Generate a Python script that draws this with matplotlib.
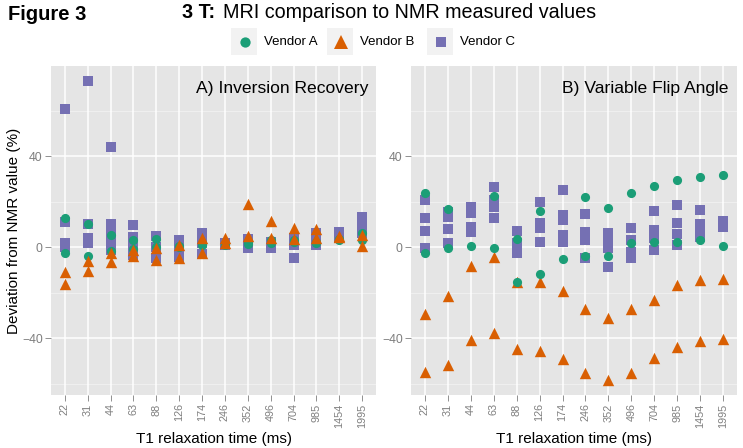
import matplotlib
matplotlib.use('Agg')
import matplotlib.pyplot as plt
from matplotlib.patches import Rectangle
from matplotlib.lines import Line2D

categories = ['22', '31', '44', '63', '88', '126', '174', '246', '352', '496', '704', '985', '1454', '1995']

# Panel A: Inversion Recovery
ir_vendor_a = [[13.0, -2.5], [10.0, -3.8], [5.3, -1.6], [3.1, -1.0], [3.5, 0.1], [0.4, 0.1], [1.9, 1.0],
               [1.3, 0.8], [2.3, 1.5], [1.9, 3.0], [2.3, 3.0], [1.6, 2.3], [3.1, 3.5], [6.3, 3.1]]
ir_vendor_b = [[-10.8, -16.0], [-6.0, -10.4], [-2.8, -6.4], [-1.3, -4.0], [-0.3, -5.5], [0.9, -5.0], [4.1, -2.5],
               [4.1, 1.6], [18.9, 4.8], [11.6, 4.1], [8.6, 3.4], [7.8, 4.1], [4.5, 5.0], [5.3, 0.4]]
ir_vendor_c = [[60.7, 11.1, 1.9, 0.1], [73.0, 10.0, 4.2, 1.9], [44.1, 10.1, 6.0, 1.6, -1.3], [9.7, 4.5, 0.1, -3.5],
               [4.8, 0.0, -5.0], [3.1, -1.3, -4.5], [6.0, 1.6, -3.1], [2.0, 1.0], [3.4, -0.6], [2.3, -0.6],
               [3.8, 0.9, -5.0], [6.3, 3.5, 0.9], [6.7, 3.8], [13.3, 10.4, 6.0]]

# Panel B: Variable Flip Angle
vfa_vendor_a = [[23.6, -2.8], [16.7, -0.6], [0.4], [22.4, -0.6], [3.5, -15.2], [16.0, -11.6], [-5.4],
                [22.1, -3.8], [17.0, -3.8], [23.6, 1.8], [26.8, 2.3], [29.5, 2.3], [30.9, 3.1], [31.6, 0.4]]
vfa_vendor_b = [[-29.5, -54.8], [-21.4, -51.6], [-8.4, -40.9], [-4.5, -37.7], [-15.2, -45.0], [-15.5, -45.7],
                [-19.3, -49.2], [-27.4, -55.5], [-31.1, -58.5], [-27.3, -55.2], [-23.3, -48.9], [-16.7, -44.1],
                [-14.5, -41.3], [-13.8, -40.6]]
vfa_vendor_c = [[20.7, 12.6, 7.0, -0.6], [15.5, 13.3, 7.8, 1.9], [17.7, 14.8, 8.9, 6.7], [26.2, 20.7, 17.7, 12.6],
                [7.2, 1.6, -2.8], [19.9, 10.4, 8.2, 2.3], [25.1, 14.1, 11.9, 5.3, 2.3], [14.5, 6.7, 3.1, -5.0],
                [6.3, 2.3, -0.6, -8.9], [8.2, 3.1, -2.1, -5.0], [16.0, 7.5, 3.8, -1.3], [18.3, 10.4, 5.7, 0.9],
                [16.3, 10.0, 7.5, 4.5], [11.6, 8.9]]

vendors = ['Vendor A', 'Vendor B', 'Vendor C']
colors = {'Vendor A': '#1b9e77', 'Vendor B': '#d95f02', 'Vendor C': '#7570b3'}
markers = {'Vendor A': 'o', 'Vendor B': '^', 'Vendor C': 's'}
msizes = {'Vendor A': 6.6, 'Vendor B': 8.2, 'Vendor C': 6.7}
legend_msizes = {'Vendor A': 7.4, 'Vendor B': 10.5, 'Vendor C': 7.8}

plt.rcParams['font.family'] = ['Liberation Sans', 'DejaVu Sans']

W, H = 743, 448
fig = plt.figure(figsize=(W / 100, H / 100), dpi=100)


def fx(x):
    return x / W


def fy(y):
    return 1 - y / H


def flatten(groups):
    xs, ys = [], []
    for i, g in enumerate(groups):
        for v in g:
            xs.append(i)
            ys.append(v)
    return xs, ys


def make_panel(left, right, title, data, order):
    ax = fig.add_axes([fx(left), fy(395), fx(right) - fx(left), fy(66) - fy(395)])
    ax.set_facecolor('#e5e5e5')
    for s in ax.spines.values():
        s.set_visible(False)
    ax.set_xlim(-0.6, len(categories) - 0.4)
    ax.set_ylim(-65, 79.6)
    for yv in [-60, -20, 20, 60]:
        ax.axhline(yv, color='#f2f2f2', lw=0.6, zorder=0)
    for yv in [-40, 0, 40]:
        ax.axhline(yv, color='white', lw=1.1, zorder=0.5)
    for i in range(len(categories)):
        ax.axvline(i, color='white', lw=1.1, zorder=0.5)
    for z, v in enumerate(order):
        xs, ys = flatten(data[v])
        ax.scatter(xs, ys, marker=markers[v], s=msizes[v] ** 2, color=colors[v],
                   linewidths=0, zorder=2 + z)
    ax.set_xticks(range(len(categories)))
    ax.set_xticklabels(categories, rotation=90, fontsize=7.8, color='#7f7f7f')
    ax.set_yticks([-40, 0, 40])
    ax.set_yticklabels(['\u221240', '0', '40'], fontsize=8.8, color='#7f7f7f')
    ax.tick_params(axis='both', length=4, width=0.6, color='#7f7f7f', pad=2)
    ax.set_xlabel('T1 relaxation time (ms)', fontsize=11, labelpad=3)
    ax.text(0.975, 0.955, title, transform=ax.transAxes, ha='right', va='top', fontsize=12.6)
    return ax


make_panel(51, 376, 'A) Inversion Recovery',
           {'Vendor A': ir_vendor_a, 'Vendor B': ir_vendor_b, 'Vendor C': ir_vendor_c},
           ['Vendor C', 'Vendor A', 'Vendor B'])
make_panel(411, 737, 'B) Variable Flip Angle',
           {'Vendor A': vfa_vendor_a, 'Vendor B': vfa_vendor_b, 'Vendor C': vfa_vendor_c},
           ['Vendor C', 'Vendor B', 'Vendor A'])

fig.text(fx(14), fy(231), 'Deviation from NMR value (%)', rotation=90, ha='center', va='center', fontsize=11)

# Titles
fig.text(fx(8), fy(14), 'Figure 3', ha='left', va='center', fontsize=14.5, fontweight='bold')
fig.text(fx(182), fy(13), '3 T:', ha='left', va='center', fontsize=14.2, fontweight='bold')
fig.text(fx(223), fy(13), 'MRI comparison to NMR measured values', ha='left', va='center', fontsize=14.2)

# Legend
key_x = [231, 327, 427]
for v, kx in zip(vendors, key_x):
    fig.add_artist(Rectangle((fx(kx), fy(55)), fx(26), fy(28) - fy(55), transform=fig.transFigure,
                             facecolor='#f2f2f2', edgecolor='none'))
    fig.add_artist(Line2D([fx(kx + 13.5)], [fy(42)], marker=markers[v], markersize=legend_msizes[v],
                          color=colors[v], markeredgewidth=0, linestyle='none', transform=fig.transFigure))
    fig.text(fx(kx + 32.5), fy(42), v, ha='left', va='center', fontsize=9.5)

fig.savefig('out.png', dpi=100)
